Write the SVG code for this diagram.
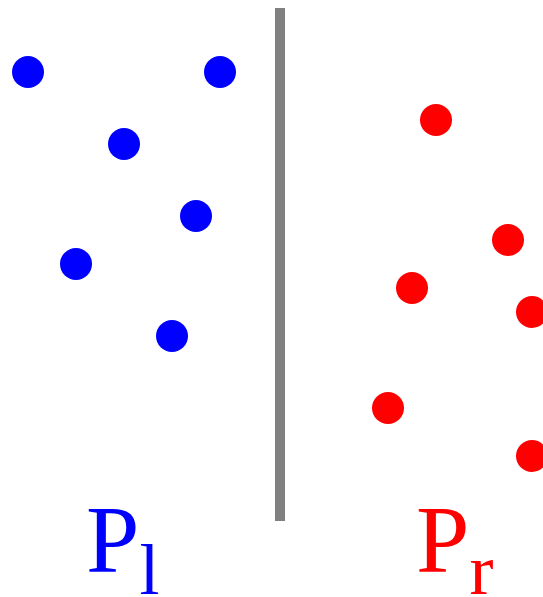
<svg xmlns="http://www.w3.org/2000/svg" width="543" height="597" viewBox="0 0 543 597">
<style>
.b{fill:#0000ff}
.r{fill:#ff0000}
.t{font-family:"Liberation Serif","Times New Roman",serif}
</style>
<rect width="543" height="597" fill="#fff"/>
<line x1="280" y1="8" x2="280" y2="521" stroke="#808080" stroke-width="10"/>
<g id="left">
<circle class="b" cx="28" cy="72" r="16"/>
<circle class="b" cx="220" cy="72" r="16"/>
<circle class="b" cx="124" cy="144" r="16"/>
<circle class="b" cx="196" cy="216" r="16"/>
<circle class="b" cx="76" cy="264" r="16"/>
<circle class="b" cx="172" cy="336" r="16"/>
</g>
<g id="right">
<circle class="r" cx="436" cy="120" r="16"/>
<circle class="r" cx="508" cy="240" r="16"/>
<circle class="r" cx="412" cy="288" r="16"/>
<circle class="r" cx="532" cy="312" r="16"/>
<circle class="r" cx="388" cy="408" r="16"/>
<circle class="r" cx="532" cy="456" r="16"/>
</g>
<text class="t b" x="86" y="572" font-size="96">P<tspan font-size="72" y="594">l</tspan></text>
<text class="t r" x="416" y="572" font-size="96">P<tspan font-size="72" y="594">r</tspan></text>
</svg>
